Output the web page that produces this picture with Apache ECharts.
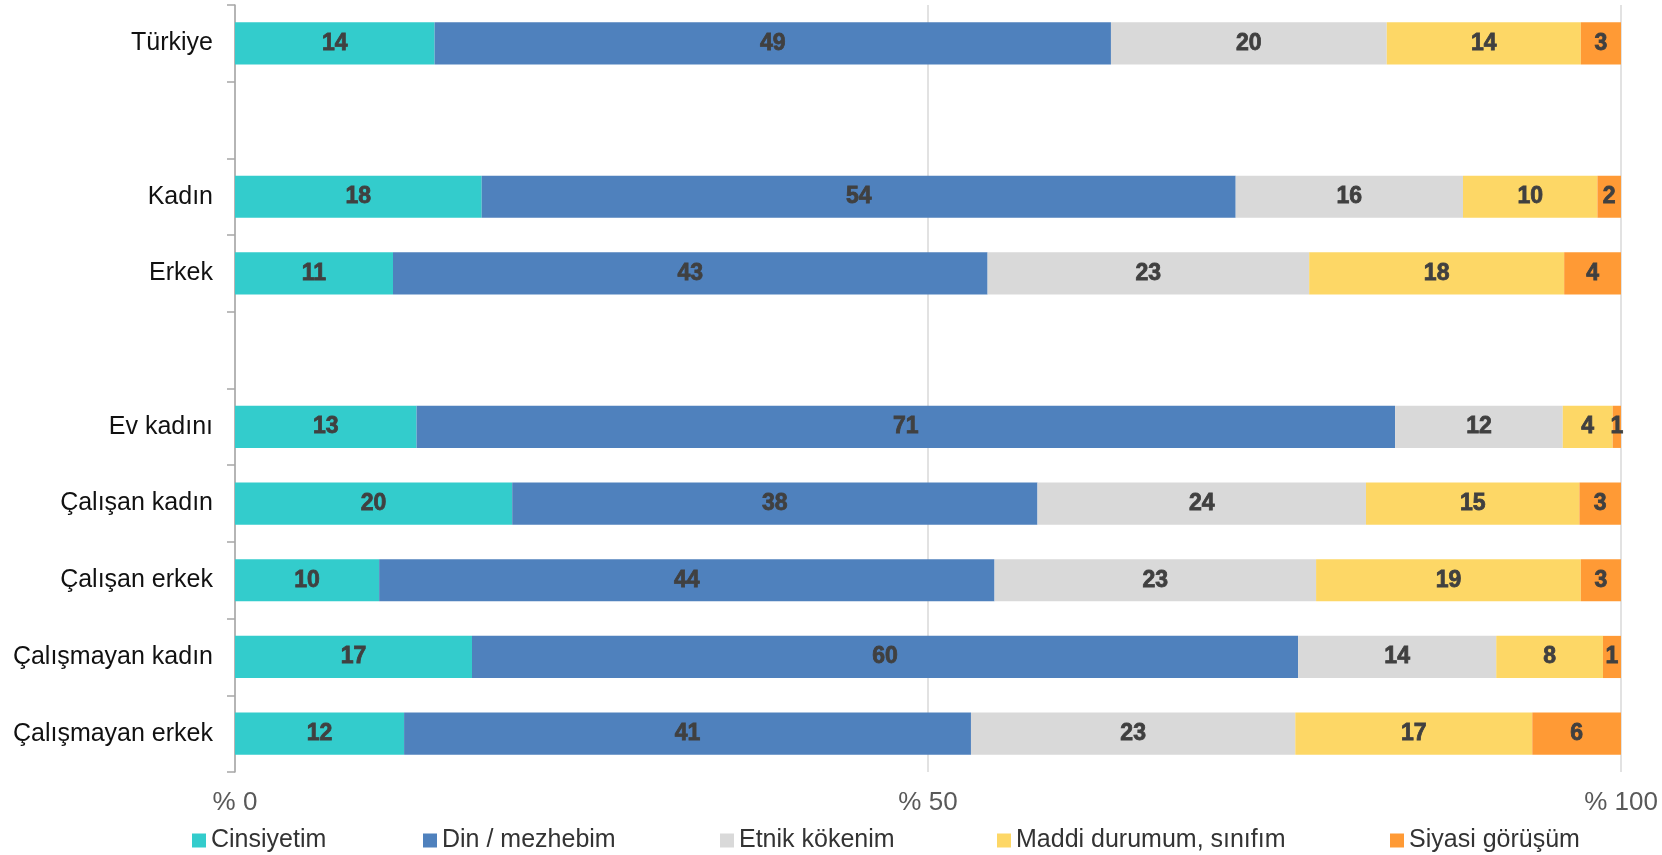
<!DOCTYPE html>
<html>
<head>
<meta charset="utf-8">
<script src="https://cdn.jsdelivr.net/npm/echarts@6/dist/echarts.min.js"></script>
<style>
html,body{margin:0;padding:0;background:#fff;}
#chart{width:1662px;height:855px;}
</style>
</head>
<body>
<div id="chart"></div>
<script>
const categories = ['Türkiye', ' ', 'Kadın', 'Erkek', '  ', 'Ev kadını', 'Çalışan kadın', 'Çalışan erkek', 'Çalışmayan kadın', 'Çalışmayan erkek'];
const seriesNames = ['Cinsiyetim', 'Din / mezhebim', 'Etnik kökenim', 'Maddi durumum, sınıfım', 'Siyasi görüşüm'];
const cinsiyetim = [14.4, null, 17.8, 11.4, null, 13.1, 20.0, 10.4, 17.1, 12.2];
const din = [48.8, null, 54.4, 42.9, null, 70.6, 37.9, 44.4, 59.6, 40.9];
const etnik = [19.9, null, 16.4, 23.2, null, 12.1, 23.7, 23.2, 14.3, 23.4];
const maddi = [14.0, null, 9.7, 18.4, null, 3.6, 15.4, 19.1, 7.7, 17.1];
const siyasi = [2.9, null, 1.8, 4.1, null, 0.6, 3.0, 2.9, 1.3, 6.4];
const xTicks = [0, 50, 100];

const values = [cinsiyetim, din, etnik, maddi, siyasi];
const colors = ['#33CCCC', '#4F81BD', '#D9D9D9', '#FDD766', '#FF9A35'];
const legendLeft = [187, 418, 715, 992, 1385];

const chart = echarts.init(document.getElementById('chart'));
const fontFamily = '"Liberation Sans", Arial, sans-serif';

chart.setOption({
  animation: false,
  textStyle: { fontFamily: fontFamily },
  grid: { left: 235, right: 41, top: 5, bottom: 83, containLabel: false },
  legend: seriesNames.map((n, i) => ({
    data: [n],
    left: legendLeft[i],
    top: 823,
    itemWidth: 14,
    itemHeight: 14,
    itemGap: 0,
    icon: 'rect',
    textStyle: { fontSize: 25, color: '#333', fontFamily: fontFamily, padding: [0, 0, 0, 0] }
  })),
  xAxis: {
    type: 'value',
    min: xTicks[0],
    max: xTicks[xTicks.length - 1],
    interval: 50,
    axisLine: { show: false },
    axisTick: { show: false },
    splitLine: { show: true, lineStyle: { color: '#D9D9D9', width: 1.5 } },
    axisLabel: {
      formatter: v => '% ' + v,
      fontSize: 26,
      color: '#595959',
      margin: 18
    }
  },
  yAxis: {
    type: 'category',
    inverse: true,
    data: categories,
    axisLine: { show: true, lineStyle: { color: '#A6A6A6', width: 1.5 } },
    axisTick: { show: true, length: 8, lineStyle: { color: '#A6A6A6', width: 1.5 } },
    axisLabel: { fontSize: 25, color: '#111', margin: 22 }
  },
  series: seriesNames.map((n, i) => ({
    name: n,
    type: 'bar',
    stack: 'total',
    barWidth: '55%',
    itemStyle: { color: colors[i] },
    label: {
      show: true,
      position: 'inside',
      formatter: p => (p.value == null ? '' : Math.round(p.value)),
      fontFamily: fontFamily,
      fontWeight: 'bold',
      fontSize: 23,
      color: '#404040',
      textBorderColor: '#404040',
      textBorderWidth: 0.8
    },
    data: values[i]
  }))
});
</script>
</body>
</html>
